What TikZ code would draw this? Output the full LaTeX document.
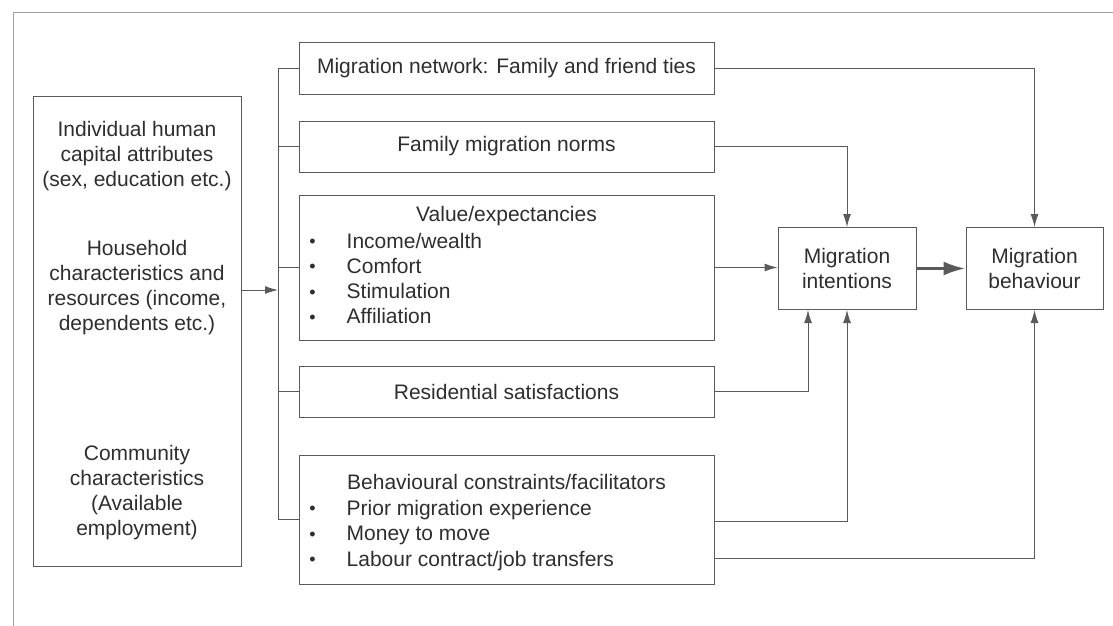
\documentclass[tikz,border=0pt]{standalone}
\usepackage{fontspec}
\setmainfont{Liberation Sans}
\usetikzlibrary{positioning,arrows.meta,calc}
\definecolor{linegray}{HTML}{5A5A5A}
\definecolor{textgray}{HTML}{2E2E2E}
\definecolor{framegray}{HTML}{A0A0A0}
\newcommand{\diagfont}{\fontsize{21}{25}\selectfont}

\begin{document}
\begin{tikzpicture}[
  x=1pt, y=-1pt,
  box/.style={draw=linegray, line width=1pt, minimum width=415, minimum height=51, inner sep=0pt, text=textgray, font=\diagfont},
  txt/.style={text=textgray, font=\diagfont, align=center, inner sep=0pt},
  dot/.style={txt, anchor=base, font=\fontsize{18}{18}\selectfont},
  arr/.style={-{Latex[length=13pt, width=8pt]}, draw=linegray, line width=1pt},
  bigarr/.style={-{Latex[length=22pt, width=14pt]}, draw=linegray, line width=3pt},
  link/.style={draw=linegray, line width=1pt}
]
\useasboundingbox (0,0) rectangle (1113,626);
\draw[framegray, line width=1pt] (1113,13) -- (13,13) -- (13,626);

% left column
\node[box, minimum width=208, minimum height=470] (attrs) at (137,331) {};
\node[txt] (human) at ($(attrs.north)+(0,61)$) {Individual human\\capital attributes\\(sex, education etc.)};
\node[txt] (household) at ($(attrs.north)+(0,192)$) {Household\\characteristics and\\resources (income,\\dependents etc.)};
\node[txt] (community) at ($(attrs.north)+(0,397)$) {Community\\characteristics\\(Available\\employment)};

% middle column
\node[box] (network) at (506.5,68.5) {Migration network: Family and friend ties};
\node[box] (norms) at (506.5,146.5) {Family migration norms};
\node[box, minimum height=145] (values) at (506.5,267.5) {};
\node[box] (resid) at (506.5,391.5) {Residential satisfactions};
\node[box, minimum height=129] (constr) at (506.5,519.5) {};

\node[txt] (valtitle) at ($(values.north)+(0,22)$) {Value/expectancies};
\foreach \item [count=\i] in {Income/wealth, Comfort, Stimulation, Affiliation} {
  \node[dot] (valdot\i) at ($(values.north west)+(14,53+25.3*\i-25.3)$) {\textbullet};
  \node[txt, anchor=base west] (valitem\i) at ($(values.north west)+(48,53.5+25.3*\i-25.3)$) {\item};
}
\node[txt] (contitle) at ($(constr.north)+(0,27)$) {Behavioural constraints/facilitators};
\foreach \item [count=\i] in {Prior migration experience, Money to move, Labour contract/job transfers} {
  \node[dot] (condot\i) at ($(constr.north west)+(14,60+25.5*\i-25.5)$) {\textbullet};
  \node[txt, anchor=base west] (conitem\i) at ($(constr.north west)+(48,60.5+25.5*\i-25.5)$) {\item};
}

% right column
\node[box, minimum width=138, minimum height=82, align=center] (intent) at (847,268.5) {Migration\\intentions};
\node[box, minimum width=137, minimum height=82, align=center] (behav) at (1034.5,268.5) {Migration\\behaviour};

% bus from the left box
\coordinate (bus) at (278,290);
\draw[arr] (attrs.east |- bus) -- (bus);
\draw[link] (network.west) -- (network.west -| bus) |- (constr.west);
\draw[link] (norms.west) -- (norms.west -| bus);
\draw[link] (values.west) -- (values.west -| bus);
\draw[link] (resid.west) -- (resid.west -| bus);

% into intentions and behaviour
\draw[arr] (network.east) -| (behav.north);
\draw[arr] (norms.east) -| (intent.north);
\draw[arr] (values.east) -- (values.east -| intent.west);
\draw[arr] (resid.east) -| ([xshift=-39pt]intent.south);
\draw[arr] ([yshift=-1.5pt]constr.east) -| (intent.south);
\draw[arr] ([yshift=-38.5pt]constr.east) -| (behav.south);
\draw[bigarr] (intent.east) -- (behav.west);
\end{tikzpicture}
\end{document}
